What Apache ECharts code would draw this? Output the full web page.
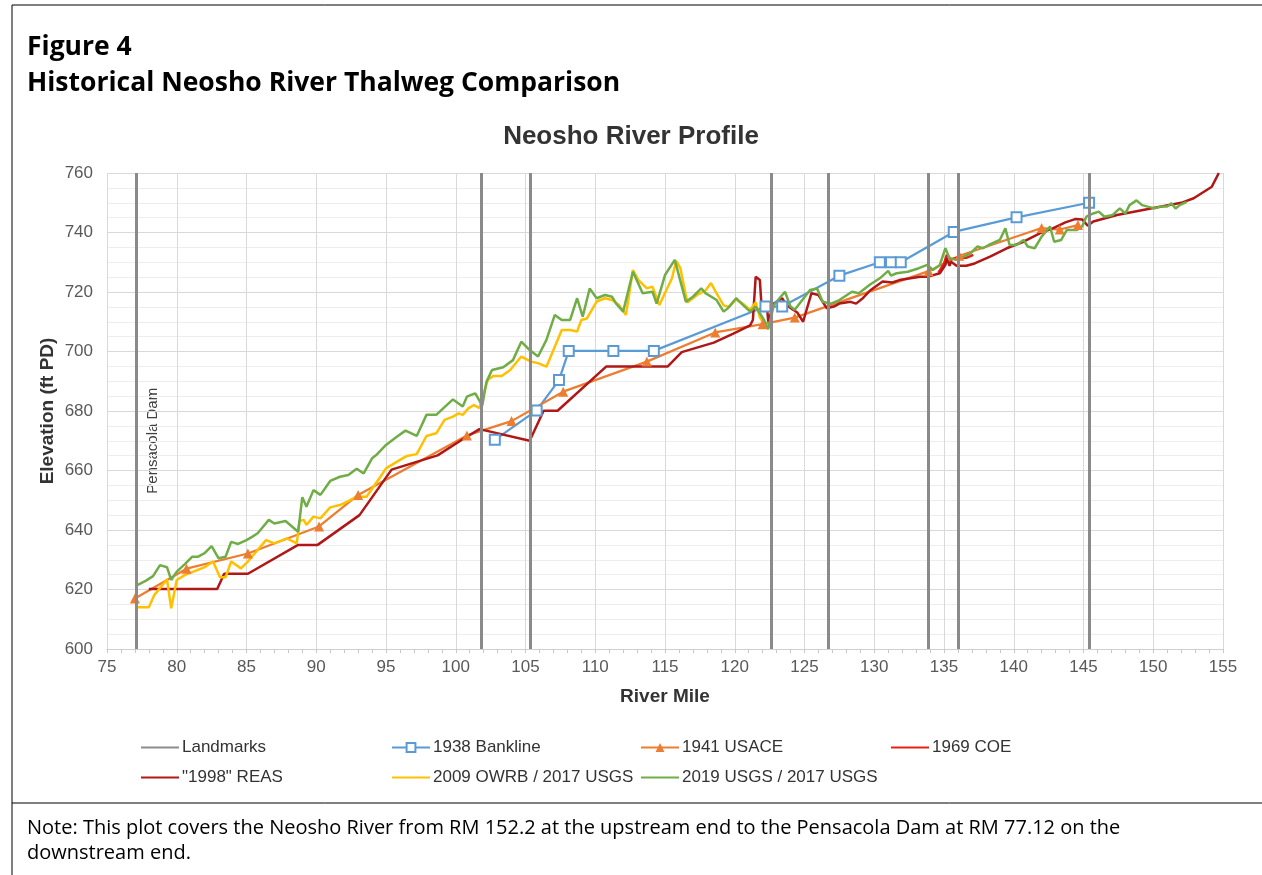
<!DOCTYPE html>
<html>
<head>
<meta charset="utf-8">
<script src="https://cdn.jsdelivr.net/npm/echarts@6/dist/echarts.min.js"></script>
<style>
html,body{margin:0;padding:0;background:#fff}
#main{width:1262px;height:875px}
</style>
</head>
<body>
<div id="main"></div>
<script>
// river mile of each landmark line
var landmarks = [77.12, 101.8, 105.35, 122.6, 126.7, 133.85, 136.0, 145.4];

// [river mile, elevation ft PD]
var bankline1938 = [[102.8,670.3],[105.8,680.2],[107.4,690.4],[108.1,700.2],[111.3,700.2],[114.2,700.2],
  [122.2,715.1],[123.4,715.1],[127.5,725.5],[130.4,730],[131.2,730],[131.9,730],[135.7,740.2],[140.2,745.1],[145.4,750]];

var usace1941 = [[77.0,617],[80.7,627],[85.1,632.1],[90.2,641.2],[93.0,651.8],[100.8,671.8],[104.0,676.6],
  [107.7,686.5],[113.7,696.6],[118.6,706.4],[122.0,709.2],[124.3,711.4],[133.9,727],[136.1,732.2],
  [142.0,741.5],[143.3,741],[144.6,742.5]];

var coe1969 = [[134.6,726.5],[135.0,729.5],[135.2,732.5],[135.5,731],[136.0,731.5],[136.6,731.5],[137.1,732.5]];

var reas1998 = [[78.0,620.2],[82.9,620.2],[83.4,625.3],[85.1,625.3],[88.7,635],[90.1,635],[93.1,645],[95.4,660.3],
  [98.7,665.1],[100.5,670.5],[101.7,673.9],[105.3,670],[106.3,680.1],[107.3,680.1],[110.8,695],[115.2,695],
  [116.2,699.8],[118.5,703],[119.9,706],[121.1,708.8],[121.3,710.6],[121.5,725.1],[121.8,724],[121.9,716.7],
  [122.3,716.1],[122.4,710],[122.8,716.1],[123.4,717.9],[123.7,715.6],[124.2,714],[124.5,713],[124.9,710],
  [125.5,719.6],[126.0,719],[126.6,714.5],[127.1,715.1],[127.5,716.1],[128.3,716.7],[128.7,716.1],[129.2,718],
  [129.7,720.5],[130.6,723.5],[131.3,723.2],[131.8,724],[132.6,724.6],[133.3,725.1],[133.8,725.1],[134.7,726.3],
  [135.1,729.1],[135.2,731.3],[135.4,728.8],[135.5,730.2],[135.9,728.8],[136.6,728.8],[137.2,729.6],[138.3,731.9],
  [139.5,734.7],[140.7,736.9],[141.9,739.8],[142.8,741.4],[143.7,743.4],[144.4,744.5],[144.9,744.4],[145.3,742.3],
  [145.7,743.7],[147.4,745.9],[150.2,748.4],[152.1,750.1],[152.9,751.5],[154.2,755.4],[154.7,760]];

var owrb2009 = [[77.1,614],[78.0,614],[78.4,618.2],[79.3,623.4],[79.6,613.7],[80.0,623.2],[80.6,624.9],[81.2,626],
  [82.0,627.5],[82.6,629.4],[83.1,624.1],[83.5,624.1],[83.9,629.4],[84.6,627.1],[85.1,629.4],[85.6,632.2],
  [86.4,636.6],[87.0,635.5],[87.9,637.2],[88.6,635.5],[88.8,643],[89.1,643.4],[89.3,641.7],[89.8,644.5],
  [90.3,643.9],[91.0,647.6],[91.7,648.4],[92.3,649.7],[92.9,651.2],[93.6,651.2],[94.6,657.9],[95.0,660.7],
  [95.8,663],[96.5,664.9],[97.2,665.5],[97.9,671.6],[98.6,672.5],[99.2,677],[99.8,678.1],[100.2,679.2],
  [100.5,678.7],[100.9,680.9],[101.3,682],[101.7,681],[102.0,686],[102.3,690.5],[102.7,691.8],[103.3,691.8],
  [103.9,693.8],[104.7,698.3],[105.4,696.6],[105.9,696.1],[106.5,694.9],[107.1,701.6],[107.6,707.2],[108.2,707.2],
  [108.7,706.7],[109.0,710.6],[109.4,711.1],[110.1,716.8],[110.7,717.9],[111.2,717.3],[111.7,715.6],[112.2,712.3],
  [112.7,727.4],[113.1,724],[113.7,721.2],[114.1,721.8],[114.6,715.6],[115.1,720.7],[115.5,724.6],[115.8,730.5],
  [116.1,728],[116.6,716.5],[117.3,719],[117.9,720.5],[118.3,723],[118.7,719.5],[119.2,715.5],[119.6,715],
  [120.1,717.5],[120.6,716],[121.1,714],[121.5,716.5],[121.8,711.5],[122.0,710]];

var usgs2019 = [[77.1,621.3],[77.8,623],[78.3,624.5],[78.8,628.2],[79.3,627.5],[79.6,623.2],[80.0,626],[80.6,628.6],
  [81.1,631],[81.5,631],[82.0,632.2],[82.5,634.6],[83.0,630.5],[83.5,631],[83.9,636],[84.4,635.3],[85.0,636.6],
  [85.4,637.7],[85.8,638.9],[86.6,643.4],[87.0,642.2],[87.8,643],[88.7,639.4],[89.0,651],[89.3,647.8],[89.8,653.4],
  [90.3,651.8],[91.0,656.5],[91.7,657.9],[92.3,658.5],[92.9,660.6],[93.4,659],[94.0,664.1],[94.3,665.2],[95.0,668.6],
  [95.8,671.4],[96.4,673.4],[97.2,671.6],[97.9,678.7],[98.6,678.7],[99.1,680.9],[99.8,683.9],[100.5,681.5],
  [100.8,684.8],[101.1,685.4],[101.4,685.9],[101.9,681.8],[102.2,689.8],[102.6,693.8],[103.4,694.7],[104.1,697.1],
  [104.7,703.3],[105.3,700.5],[105.9,698.3],[106.5,703.9],[107.1,712.3],[107.6,710.6],[108.2,710.6],[108.7,717.9],
  [109.1,711.7],[109.6,721.2],[110.1,717.9],[110.7,719],[111.2,718.4],[111.5,716.1],[112.0,713.4],[112.7,726.8],
  [113.4,719.6],[114.1,720.1],[114.4,716.1],[115.0,725.7],[115.7,730.8],[116.5,716.7],[117.0,718.4],[117.6,721.2],
  [117.9,719.6],[118.7,717.3],[119.2,713.4],[119.5,714.5],[120.1,717.9],[120.6,715.6],[121.1,713.4],[121.5,715.1],
  [122.1,710.6],[122.4,707.5],[122.8,715.6],[123.6,720.1],[124.0,715.1],[124.3,714],[125.4,720.7],[125.9,721.2],
  [126.3,716.7],[126.9,716.1],[127.5,717.3],[128.4,720.1],[128.9,719.6],[129.7,722.5],[130.4,724.6],[131.0,727.1],
  [131.2,725.5],[131.6,726.3],[132.4,726.8],[133.2,728],[133.8,729.1],[134.2,727.4],[134.7,729.1],[135.1,734.7],
  [135.4,731.3],[135.9,730.8],[136.9,733],[137.4,735.3],[137.8,734.7],[138.2,735.8],[139.0,737.5],[139.4,741.4],
  [139.7,735.8],[140.2,735.8],[140.7,737.5],[141.0,735.3],[141.5,734.7],[142.0,738.6],[142.6,742],[142.9,736.9],
  [143.4,737.5],[143.8,740.8],[144.5,740.8],[144.9,742],[145.2,745.3],[145.7,746.4],[146.1,747],[146.5,745.3],
  [147.1,745.9],[147.6,748.1],[148.0,746.4],[148.3,749.2],[148.8,750.8],[149.2,749.2],[149.6,748.7],[150.1,748.1],
  [150.5,748.7],[151.0,748.7],[151.3,749.8],[151.6,748.1],[151.9,749.2],[152.4,750.3]];

var seriesNames = ['Landmarks','1938 Bankline','1941 USACE','1969 COE','"1998" REAS','2009 OWRB / 2017 USGS','2019 USGS / 2017 USGS'];

var chart = echarts.init(document.getElementById('main'));
var axisFont = 'Liberation Sans, Arial, sans-serif';
var noteFont = 'Open Sans, Noto Sans, sans-serif';

// one legend per item so they sit in columns like the original
var legendSpots = [[140,739],[391,739],[640,739],[890,739],[140,769],[391,769],[640,769]];
var withMarker = {'1938 Bankline': true, '1941 USACE': true};
var legends = seriesNames.map(function(n, i){
  var lg = {
    data: [n], left: legendSpots[i][0], top: legendSpots[i][1], padding: 0,
    itemWidth: 38, itemHeight: 11, itemGap: 4,
    textStyle: {fontFamily: axisFont, fontSize: 17, color: '#333', padding: [0,0,0,-2]}
  };
  if (!withMarker[n]) lg.itemStyle = {opacity: 0};
  return lg;
});

function plain(name, data, color, width){
  return {
    name: name, type: 'line', data: data, symbol: 'none', color: color,
    lineStyle: {color: color, width: width || 2.5}
  };
}

var option = {
  animation: false,
  title: {
    text: 'Neosho River Profile', left: 'center', top: 119,
    textStyle: {fontFamily: axisFont, fontSize: 26, fontWeight: 'bold', color: '#333'}
  },
  legend: legends,
  grid: {left: 107, right: 39, top: 173, bottom: 226},
  xAxis: {
    type: 'value', min: 75, max: 155, interval: 5,
    name: 'River Mile', nameLocation: 'middle', nameGap: 38,
    nameTextStyle: {fontFamily: axisFont, fontSize: 19, fontWeight: 'bold', color: '#333'},
    axisLine: {show: true, lineStyle: {color: '#d0d0d0'}},
    axisTick: {show: true, length: 4, lineStyle: {color: '#c8c8c8'}},
    minorTick: {show: true, splitNumber: 5, length: 4, lineStyle: {color: '#c8c8c8'}},
    axisLabel: {fontFamily: axisFont, fontSize: 17, color: '#595959', margin: 10},
    splitLine: {show: true, lineStyle: {color: '#d9d9d9'}}
  },
  yAxis: {
    type: 'value', min: 600, max: 760, interval: 20,
    name: 'Elevation (ft PD)', nameLocation: 'middle', nameGap: 50, nameMoveOverlap: false,
    nameTextStyle: {fontFamily: axisFont, fontSize: 19, fontWeight: 'bold', color: '#333'},
    axisLine: {show: false},
    axisTick: {show: false},
    axisLabel: {fontFamily: axisFont, fontSize: 17, color: '#595959', margin: 14},
    splitLine: {show: true, lineStyle: {color: '#d9d9d9'}},
    minorTick: {show: false, splitNumber: 4},
    minorSplitLine: {show: true, lineStyle: {color: '#ededed'}}
  },
  series: [
    {
      name: 'Landmarks', type: 'line', data: [], symbol: 'none', color: '#8c8c8c',
      lineStyle: {color: '#8c8c8c', width: 3},
      markLine: {
        silent: true, symbol: 'none', label: {show: false},
        lineStyle: {color: '#8a8a8a', width: 3, type: 'solid'},
        data: landmarks.map(function(m){ return {xAxis: m}; })
      }
    },
    {
      name: '1938 Bankline', type: 'line', data: bankline1938, color: '#5b9bd5',
      symbol: 'emptyRect', symbolSize: 10, showSymbol: true,
      lineStyle: {color: '#5b9bd5', width: 2.25},
      itemStyle: {color: '#5b9bd5', borderColor: '#5b9bd5', borderWidth: 1.5}
    },
    {
      name: '1941 USACE', type: 'line', data: usace1941, color: '#ed7d31',
      symbol: 'triangle', symbolSize: 10, showSymbol: true,
      lineStyle: {color: '#ed7d31', width: 2.25},
      itemStyle: {color: '#ed7d31'}
    },
    plain('1969 COE', coe1969, '#e8201c'),
    plain('"1998" REAS', reas1998, '#b01818'),
    plain('2009 OWRB / 2017 USGS', owrb2009, '#ffc000'),
    plain('2019 USGS / 2017 USGS', usgs2019, '#70ad47')
  ],
  graphic: [
    {type: 'line', shape: {x1: 12, y1: 5, x2: 1262, y2: 5}, style: {stroke: '#000', lineWidth: 1}},
    {type: 'line', shape: {x1: 12, y1: 5, x2: 12, y2: 875}, style: {stroke: '#000', lineWidth: 1}},
    {type: 'line', shape: {x1: 12, y1: 803, x2: 1262, y2: 803}, style: {stroke: '#000', lineWidth: 1}},
    {type: 'text', left: 27, top: 34, style: {text: 'Figure 4', fontFamily: noteFont, fontSize: 26.5, fontWeight: 'bold', fill: '#000'}},
    {type: 'text', left: 27, top: 70, style: {text: 'Historical Neosho River Thalweg Comparison', fontFamily: noteFont, fontSize: 26.5, fontWeight: 'bold', fill: '#000'}},
    {type: 'text', left: 27, top: 816, style: {text: 'Note: This plot covers the Neosho River from RM 152.2 at the upstream end to the Pensacola Dam at RM 77.12 on the\ndownstream end.', fontFamily: noteFont, fontSize: 20, lineHeight: 25, fill: '#000'}}
  ]
};
chart.setOption(option);

// rotated "Pensacola Dam" label next to the dam landmark
var damPt = chart.convertToPixel({gridIndex: 0}, [landmarks[0] + 1.2, 670]);
chart.setOption({
  graphic: option.graphic.concat([{
    type: 'text', x: damPt[0], y: damPt[1], rotation: Math.PI / 2,
    style: {text: 'Pensacola Dam', fontFamily: axisFont, fontSize: 15, fill: '#404040', align: 'center', verticalAlign: 'middle'}
  }])
});
</script>
</body>
</html>
